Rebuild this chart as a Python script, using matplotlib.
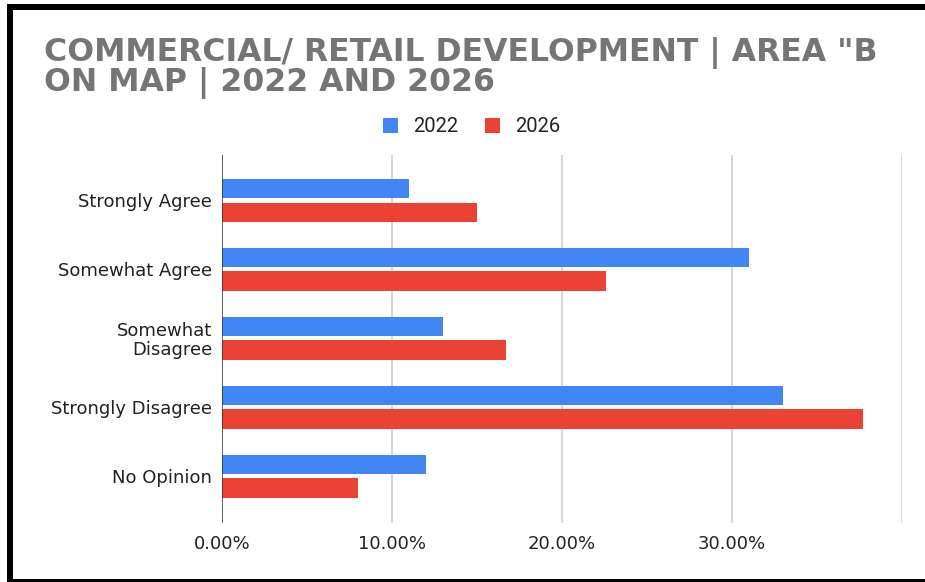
import numpy as np
import matplotlib
matplotlib.use("Agg")
import matplotlib.pyplot as plt
from matplotlib.patches import Rectangle
from matplotlib.ticker import FuncFormatter

# Survey responses, share of respondents (%)
categories = ["Strongly Agree", "Somewhat Agree", "Somewhat\nDisagree",
              "Strongly Disagree", "No Opinion"]
series_names = ["2022", "2026"]
values_2022 = [11.0, 31.0, 13.0, 33.0, 12.0]
values_2026 = [15.0, 22.6, 16.7, 37.7, 8.0]
x_ticks = [0, 10, 20, 30, 40]
x_labelled = [0, 10, 20, 30]

title_lines = ["COMMERCIAL/ RETAIL DEVELOPMENT | AREA \"B",
               "ON MAP | 2022 AND 2026"]

BLUE = "#4285F4"
RED = "#EA4335"
GRID = "#cccccc"
TEXT = "#222222"
TITLE = "#757575"

W, H = 925, 582
fig = plt.figure(figsize=(W / 100, H / 100), dpi=100)
fig.patch.set_facecolor("white")


def px(x0, y0, x1, y1):
    """Figure-fraction rectangle from pixel edges (origin top-left)."""
    return (x0 / W, 1 - y1 / H), (x1 - x0) / W, (y1 - y0) / H


ax = fig.add_axes([222 / W, 1 - 523 / H, (902 - 222) / W, (523 - 155) / H])

y = np.arange(len(categories))
off = 0.17
bh = 0.28
ax.barh(y - off, values_2022, height=bh, color=BLUE, label=series_names[0], zorder=3)
ax.barh(y + off, values_2026, height=bh, color=RED, label=series_names[1], zorder=3)

ax.set_xlim(0, 40)
ax.set_ylim(4.68, -0.66)
ax.set_xticks(x_ticks)
ax.xaxis.set_major_formatter(
    FuncFormatter(lambda v, p: f"{v:.2f}%" if v in x_labelled else ""))
ax.set_yticks(y)
ax.set_yticklabels(categories)

for v in x_ticks[1:]:
    ax.axvline(v, color=GRID, lw=1.1, zorder=1)
ax.axvline(0, color="#333333", lw=1.1, zorder=4)

for s in ax.spines.values():
    s.set_visible(False)
ax.tick_params(axis="both", length=0)
ax.tick_params(axis="y", pad=7.2, labelsize=13, labelcolor=TEXT)
ax.tick_params(axis="x", pad=8.8, labelsize=13, labelcolor=TEXT)
for lab in ax.get_xticklabels() + ax.get_yticklabels():
    lab.set_fontfamily("DejaVu Sans")
for lab in ax.get_yticklabels():
    lab.set_multialignment("right")
    lab.set_linespacing(1.05)

# Title
for i, line in enumerate(title_lines):
    fig.text(44 / W, 1 - (61 + 30 * i) / H, line, fontsize=22.7,
             fontweight="bold", color=TITLE, family="DejaVu Sans",
             ha="left", va="baseline")

# Legend
fig.legend(loc="center", bbox_to_anchor=(471.5 / W, 1 - 127 / H), ncol=2,
           frameon=False, prop={"family": "Roboto", "size": 14.5},
           handlelength=0.75, handleheight=0.75, handletextpad=0.75,
           columnspacing=1.35, labelcolor=TEXT)

# Frame around the figure
for x0, y0, x1, y1 in [(7, 4, 925, 10), (7, 4, 13, 582), (7, 579, 925, 582)]:
    xy, w, h = px(x0, y0, x1, y1)
    fig.add_artist(Rectangle(xy, w, h, transform=fig.transFigure,
                             facecolor="black", edgecolor="none"))

fig.savefig("out.png", dpi=100)
